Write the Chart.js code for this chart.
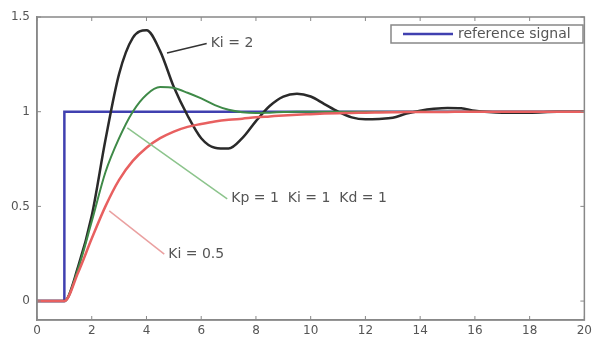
<!DOCTYPE html>
<html>
<head>
<meta charset="utf-8">
<script src="https://cdn.jsdelivr.net/npm/chart.js@4/dist/chart.umd.min.js"></script>
<style>
  body { margin: 0; background: #fff; }
  #wrap { width: 596px; height: 338px; }
</style>
</head>
<body>
<div id="wrap"><canvas id="stepChart" width="596" height="338"></canvas></div>
<script>
// time axis (s) and step responses
const time = [0, 1, 1.5, 2, 2.5, 3, 3.5, 4, 4.5, 5, 5.5, 6, 6.5, 7, 7.5, 8, 8.5, 9, 9.5, 10,
  10.5, 11, 11.5, 12, 12.5, 13, 13.5, 14, 14.5, 15, 15.5, 16, 16.5, 17, 18, 19, 20];
const respKi2 = [0, 0, 0.18, 0.45, 0.85, 1.2, 1.39, 1.43, 1.32, 1.13, 0.98, 0.86, 0.81, 0.805, 0.86, 0.95,
  1.03, 1.08, 1.095, 1.08, 1.04, 1.0, 0.97, 0.96, 0.962, 0.968, 0.99, 1.005, 1.015, 1.02, 1.018, 1.005,
  0.998, 0.995, 0.995, 1.0, 1.0];
const respKi1 = [0, 0, 0.17, 0.42, 0.68, 0.86, 1.0, 1.09, 1.13, 1.125, 1.1, 1.07, 1.035, 1.01, 0.997, 0.993,
  0.995, 0.998, 1.0, 1.0, 1.0, 1.0, 1.0, 1.0, 1.0, 1.0, 1.0, 1.0, 1.0, 1.0, 1.0, 1.0,
  1.0, 1.0, 1.0, 1.0, 1.0];
const respKi05 = [0, 0, 0.15, 0.33, 0.5, 0.64, 0.74, 0.81, 0.86, 0.895, 0.92, 0.935, 0.948, 0.957, 0.963, 0.97,
  0.975, 0.98, 0.984, 0.987, 0.99, 0.992, 0.993, 0.995, 0.996, 0.997, 0.998, 0.998, 0.999, 0.999, 1.0, 1.0,
  1.0, 1.0, 1.0, 1.0, 1.0];
const refTime = [0, 1, 1, 20];
const refValue = [0, 0, 1, 1];

const xTicks = [0, 2, 4, 6, 8, 10, 12, 14, 16, 18, 20];
const yTicks = [0, 0.5, 1, 1.5];

const toPts = (xs, ys) => xs.map((x, i) => ({ x: x, y: ys[i] }));

const FONT = 'DejaVu Sans';

// text labels with leader lines, in data coordinates
const notes = [
  { text: 'Ki = 2', from: [4.75, 1.31], to: [6.2, 1.36], color: '#333333' },
  { text: 'Kp = 1  Ki = 1  Kd = 1', from: [3.3, 0.915], to: [6.95, 0.54], color: '#8cc48c' },
  { text: 'Ki = 0.5', from: [2.64, 0.476], to: [4.65, 0.248], color: '#eaa0a0' }
];

const decorPlugin = {
  id: 'decor',
  afterDatasetsDraw(chart) {
    const ctx = chart.ctx;
    const xs = chart.scales.x, ys = chart.scales.y;
    const a = chart.chartArea;
    ctx.save();

    // annotation leaders and labels
    notes.forEach(n => {
      const x1 = xs.getPixelForValue(n.from[0]), y1 = ys.getPixelForValue(n.from[1]);
      const x2 = xs.getPixelForValue(n.to[0]), y2 = ys.getPixelForValue(n.to[1]);
      ctx.strokeStyle = n.color;
      ctx.lineWidth = 1.5;
      ctx.beginPath();
      ctx.moveTo(x1, y1);
      ctx.lineTo(x2, y2);
      ctx.stroke();
      ctx.fillStyle = '#555';
      ctx.font = '14px ' + FONT;
      ctx.textAlign = 'left';
      ctx.textBaseline = 'middle';
      ctx.fillText(n.text, x2 + 4, y2);
    });

    // box and inward ticks
    ctx.strokeStyle = '#888';
    ctx.lineWidth = 1.5;
    ctx.strokeRect(a.left, a.top, a.right - a.left, a.bottom - a.top);
    ctx.lineWidth = 1;
    ctx.beginPath();
    xTicks.forEach(v => {
      const px = xs.getPixelForValue(v);
      ctx.moveTo(px, a.bottom); ctx.lineTo(px, a.bottom - 4);
      ctx.moveTo(px, a.top); ctx.lineTo(px, a.top + 4);
    });
    yTicks.forEach(v => {
      const py = ys.getPixelForValue(v);
      ctx.moveTo(a.left, py); ctx.lineTo(a.left + 4, py);
      ctx.moveTo(a.right, py); ctx.lineTo(a.right - 4, py);
    });
    ctx.stroke();

    // legend box
    ctx.fillStyle = '#fff';
    ctx.fillRect(391, 25, 192, 18);
    ctx.strokeStyle = '#888';
    ctx.lineWidth = 1.5;
    ctx.strokeRect(391, 25, 192, 18);
    ctx.strokeStyle = '#4040b0';
    ctx.lineWidth = 2.5;
    ctx.beginPath();
    ctx.moveTo(403, 34); ctx.lineTo(453, 34);
    ctx.stroke();
    ctx.fillStyle = '#555';
    ctx.font = '14px ' + FONT;
    ctx.textAlign = 'left';
    ctx.textBaseline = 'middle';
    ctx.fillText('reference signal', 458, 34);
    ctx.restore();
  }
};

const ctxStep = document.getElementById('stepChart').getContext('2d');

const stepChart = new Chart(ctxStep, {
  type: 'line',
  data: {
    datasets: [
      {
        label: 'reference signal',
        data: toPts(refTime, refValue),
        borderColor: '#4040b0',
        borderWidth: 2.5,
        tension: 0,
        order: 3
      },
      {
        label: 'Ki = 2',
        data: toPts(time, respKi2),
        borderColor: '#2a2a2a',
        borderWidth: 2.5,
        cubicInterpolationMode: 'monotone',
        order: 2
      },
      {
        label: 'Kp = 1 Ki = 1 Kd = 1',
        data: toPts(time, respKi1),
        borderColor: '#3f8a48',
        borderWidth: 2,
        cubicInterpolationMode: 'monotone',
        order: 1
      },
      {
        label: 'Ki = 0.5',
        data: toPts(time, respKi05),
        borderColor: '#e86060',
        borderWidth: 2.5,
        cubicInterpolationMode: 'monotone',
        order: 0
      }
    ]
  },
  options: {
    responsive: false,
    animation: false,
    events: [],
    layout: { padding: { top: 17, right: 7, left: 0, bottom: 0 } },
    elements: { point: { radius: 0 } },
    plugins: { legend: { display: false }, tooltip: { enabled: false } },
    scales: {
      x: {
        type: 'linear',
        min: 0,
        max: 20,
        afterBuildTicks: s => { s.ticks = xTicks.map(v => ({ value: v })); },
        afterFit: s => { s.height = 18; },
        grid: { display: false, drawTicks: false },
        border: { color: '#888', width: 1.5 },
        ticks: { color: '#555', padding: 4, font: { family: FONT, size: 12 }, callback: v => String(v) }
      },
      y: {
        min: -0.1,
        max: 1.5,
        afterBuildTicks: s => { s.ticks = yTicks.map(v => ({ value: v })); },
        afterFit: s => { s.width = 37; },
        grid: { display: false, drawTicks: false },
        border: { color: '#888', width: 1.5 },
        ticks: { color: '#555', padding: 7, font: { family: FONT, size: 12 }, callback: v => String(v) }
      }
    }
  },
  plugins: [decorPlugin]
});
</script>
</body>
</html>
